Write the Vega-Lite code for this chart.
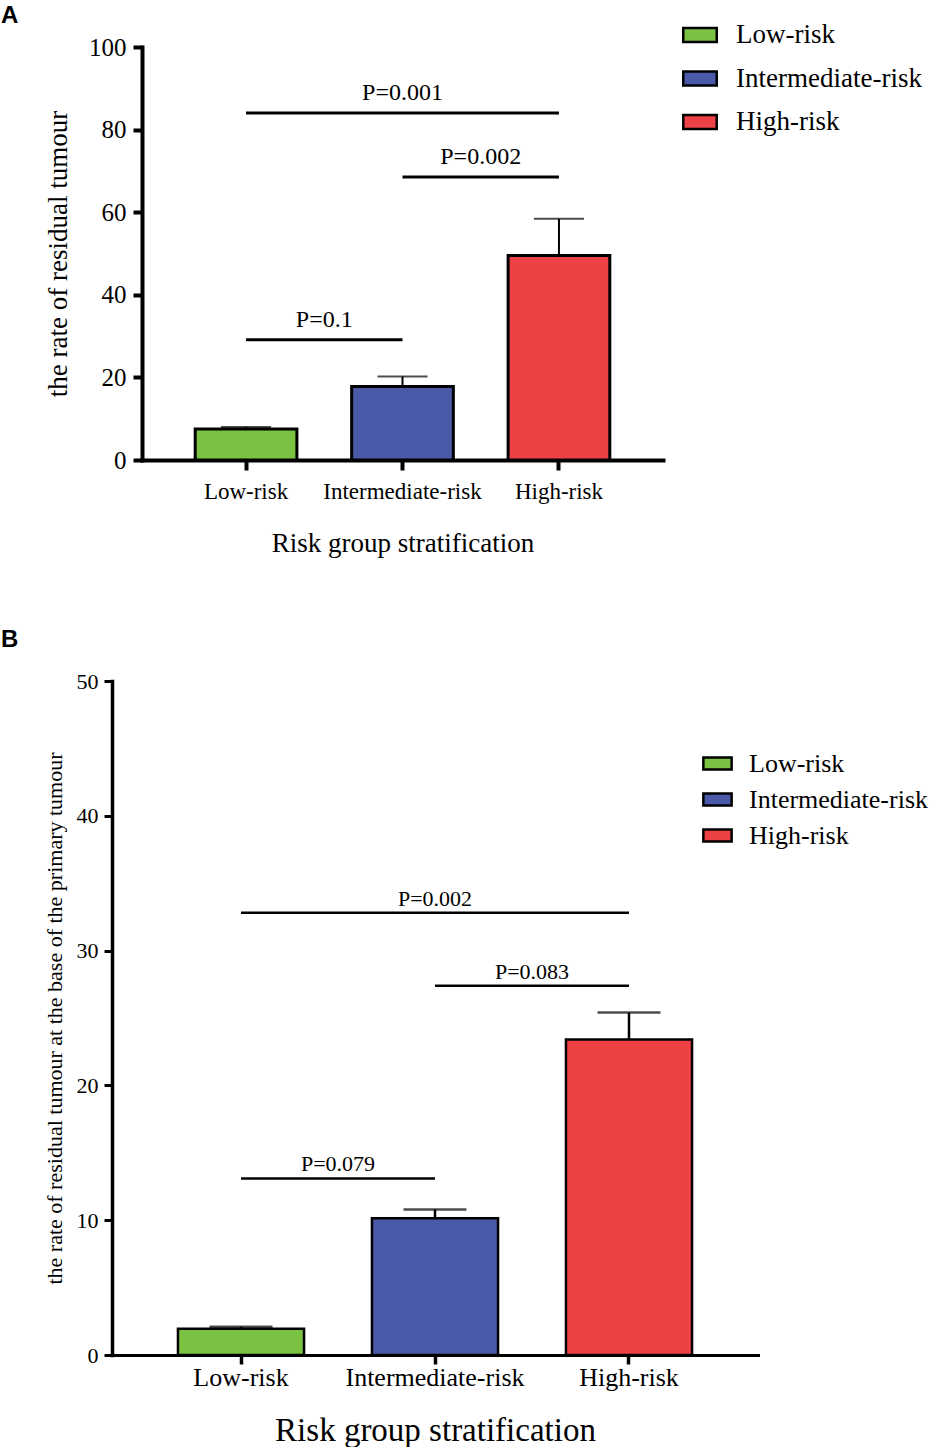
{
  "$schema": "https://vega.github.io/schema/vega-lite/v6.json",
  "background": "white",
  "padding": {"left": 1, "top": 4, "right": 0, "bottom": 0},
  "datasets": {
    "barsA": [
      {"group": "Low-risk", "value": 7.5, "err": 8.0},
      {"group": "Intermediate-risk", "value": 17.8, "err": 20.2},
      {"group": "High-risk", "value": 49.5, "err": 58.4}
    ],
    "sigA": [
      {"group": "Low-risk", "to": "High-risk", "mid": "Intermediate-risk", "level": 84, "label": "P=0.001", "span": 2},
      {"group": "Intermediate-risk", "to": "High-risk", "mid": "Intermediate-risk", "level": 68.5, "label": "P=0.002", "span": 1},
      {"group": "Low-risk", "to": "Intermediate-risk", "mid": "Low-risk", "level": 29.1, "label": "P=0.1", "span": 1}
    ],
    "barsB": [
      {"group": "Low-risk", "value": 1.95, "err": 2.1},
      {"group": "Intermediate-risk", "value": 10.15, "err": 10.8},
      {"group": "High-risk", "value": 23.4, "err": 25.4}
    ],
    "sigB": [
      {"group": "Low-risk", "to": "High-risk", "mid": "Intermediate-risk", "level": 32.8, "label": "P=0.002", "span": 2},
      {"group": "Intermediate-risk", "to": "High-risk", "mid": "Intermediate-risk", "level": 27.4, "label": "P=0.083", "span": 1},
      {"group": "Low-risk", "to": "Intermediate-risk", "mid": "Low-risk", "level": 13.1, "label": "P=0.079", "span": 1}
    ]
  },
  "resolve": {"scale": {"color": "independent"}, "legend": {"color": "independent"}},
  "spacing": 72,
  "vconcat": [
    {
      "width": 521,
      "height": 413,
      "title": {"text": "A", "anchor": "start", "frame": "group", "dx": -141, "offset": -11, "font": "Liberation Sans", "fontWeight": "bold", "fontSize": 24, "color": "black"},
      "encoding": {
        "x": {
          "field": "group",
          "type": "nominal",
          "scale": {"domain": ["Low-risk", "Intermediate-risk", "High-risk"], "paddingInner": 0.35, "paddingOuter": 0.34},
          "axis": {"title": "Risk group stratification", "labelAngle": 0, "labelFontSize": 23, "titleFontSize": 27, "domainWidth": 4, "tickWidth": 4, "tickSize": 10, "labelPadding": 10, "titlePadding": 27}
        }
      },
      "layer": [
        {
          "data": {"name": "barsA"},
          "mark": {"type": "rule", "color": "black", "strokeWidth": 2},
          "encoding": {
            "y": {"field": "err", "type": "quantitative", "title": "the rate of residual tumour"},
            "y2": {"field": "value"}
          }
        },
        {
          "data": {"name": "barsA"},
          "mark": {"type": "tick", "color": "black", "size": 50, "thickness": 2},
          "encoding": {
            "y": {"field": "err", "type": "quantitative", "title": "the rate of residual tumour"}
          }
        },
        {
          "data": {"name": "barsA"},
          "mark": {"type": "bar", "stroke": "black", "strokeWidth": 3},
          "encoding": {
            "y": {
              "field": "value",
              "type": "quantitative",
              "title": "the rate of residual tumour",
              "scale": {"domain": [0, 100], "nice": false},
              "axis": {"values": [0, 20, 40, 60, 80, 100], "labelFontSize": 25, "titleFontSize": 27, "domainWidth": 4, "tickWidth": 4, "tickSize": 9, "labelPadding": 7, "titlePadding": 16}
            },
            "color": {
              "field": "group",
              "type": "nominal",
              "scale": {"domain": ["Low-risk", "Intermediate-risk", "High-risk"], "range": ["#7bc242", "#4b5aa8", "#ee4145"]},
              "legend": {"title": null, "orient": "none", "legendX": 540, "legendY": -30, "labelFontSize": 27, "symbolSize": 1120, "rowPadding": 12.5, "labelOffset": 18}
            }
          }
        },
        {
          "data": {"name": "sigA"},
          "mark": {"type": "rule", "color": "black", "strokeWidth": 3},
          "encoding": {
            "x2": {"field": "to"},
            "y": {"field": "level", "type": "quantitative", "title": "the rate of residual tumour"}
          }
        },
        {
          "data": {"name": "sigA"},
          "transform": [{"filter": "datum.span == 2"}],
          "mark": {"type": "text", "fontSize": 24, "baseline": "alphabetic", "dy": -13, "color": "black"},
          "encoding": {
            "x": {"field": "mid", "type": "nominal", "scale": {"domain": ["Low-risk", "Intermediate-risk", "High-risk"]}},
            "y": {"field": "level", "type": "quantitative", "title": "the rate of residual tumour"},
            "text": {"field": "label"}
          }
        },
        {
          "data": {"name": "sigA"},
          "transform": [{"filter": "datum.span == 1"}],
          "mark": {"type": "text", "fontSize": 24, "baseline": "alphabetic", "dy": -13, "color": "black"},
          "encoding": {
            "x": {"field": "mid", "type": "nominal", "bandPosition": 1.269, "scale": {"domain": ["Low-risk", "Intermediate-risk", "High-risk"]}},
            "y": {"field": "level", "type": "quantitative", "title": "the rate of residual tumour"},
            "text": {"field": "label"}
          }
        }
      ]
    },
    {
      "width": 616,
      "height": 674,
      "title": {"text": "B", "anchor": "start", "frame": "group", "dx": -141, "offset": 18, "font": "Liberation Sans", "fontWeight": "bold", "fontSize": 24, "color": "black"},
      "encoding": {
        "x": {
          "field": "group",
          "type": "nominal",
          "scale": {"domain": ["Low-risk", "Intermediate-risk", "High-risk"], "range": [-30, 616], "paddingInner": 0.35, "paddingOuter": 0.34},
          "axis": {"title": "Risk group stratification", "labelAngle": 0, "labelFontSize": 26, "titleFontSize": 33, "domainWidth": 3, "tickWidth": 3.5, "tickSize": 9, "labelPadding": 0, "titlePadding": 24}
        }
      },
      "layer": [
        {
          "data": {"name": "barsB"},
          "mark": {"type": "rule", "color": "black", "strokeWidth": 2.5},
          "encoding": {
            "y": {"field": "err", "type": "quantitative", "title": "the rate of residual tumour at the base of the primary tumour"},
            "y2": {"field": "value"}
          }
        },
        {
          "data": {"name": "barsB"},
          "mark": {"type": "tick", "color": "black", "size": 63, "thickness": 2.5},
          "encoding": {
            "y": {"field": "err", "type": "quantitative", "title": "the rate of residual tumour at the base of the primary tumour"}
          }
        },
        {
          "data": {"name": "barsB"},
          "mark": {"type": "bar", "stroke": "black", "strokeWidth": 2.5},
          "encoding": {
            "y": {
              "field": "value",
              "type": "quantitative",
              "title": "the rate of residual tumour at the base of the primary tumour",
              "scale": {"domain": [0, 50], "nice": false},
              "axis": {"values": [0, 10, 20, 30, 40, 50], "offset": 30, "labelFontSize": 22, "titleFontSize": 22, "domainWidth": 3.5, "tickWidth": 3, "tickSize": 8, "labelPadding": 6, "titlePadding": 10}
            },
            "color": {
              "field": "group",
              "type": "nominal",
              "scale": {"domain": ["Low-risk", "Intermediate-risk", "High-risk"], "range": ["#7bc242", "#4b5aa8", "#ee4145"]},
              "legend": {"title": null, "orient": "none", "legendX": 560, "legendY": 67, "labelFontSize": 26, "symbolSize": 800, "rowPadding": 7, "labelOffset": 16}
            }
          }
        },
        {
          "data": {"name": "sigB"},
          "mark": {"type": "rule", "color": "black", "strokeWidth": 2.5},
          "encoding": {
            "x2": {"field": "to"},
            "y": {"field": "level", "type": "quantitative", "title": "the rate of residual tumour at the base of the primary tumour"}
          }
        },
        {
          "data": {"name": "sigB"},
          "transform": [{"filter": "datum.span == 2"}],
          "mark": {"type": "text", "fontSize": 22, "baseline": "alphabetic", "dy": -7, "color": "black"},
          "encoding": {
            "x": {"field": "mid", "type": "nominal", "scale": {"domain": ["Low-risk", "Intermediate-risk", "High-risk"]}},
            "y": {"field": "level", "type": "quantitative", "title": "the rate of residual tumour at the base of the primary tumour"},
            "text": {"field": "label"}
          }
        },
        {
          "data": {"name": "sigB"},
          "transform": [{"filter": "datum.span == 1"}],
          "mark": {"type": "text", "fontSize": 22, "baseline": "alphabetic", "dy": -7, "color": "black"},
          "encoding": {
            "x": {"field": "mid", "type": "nominal", "bandPosition": 1.269, "scale": {"domain": ["Low-risk", "Intermediate-risk", "High-risk"]}},
            "y": {"field": "level", "type": "quantitative", "title": "the rate of residual tumour at the base of the primary tumour"},
            "text": {"field": "label"}
          }
        }
      ]
    }
  ],
  "config": {
    "view": {"stroke": null},
    "font": "Liberation Serif",
    "text": {"font": "Liberation Serif"},
    "axis": {
      "grid": false,
      "domainColor": "black",
      "tickColor": "black",
      "labelColor": "black",
      "titleColor": "black",
      "labelFont": "Liberation Serif",
      "titleFont": "Liberation Serif",
      "titleFontWeight": "normal",
      "domainCap": "square"
    },
    "legend": {
      "labelFont": "Liberation Serif",
      "labelColor": "black",
      "labelLimit": 0,
      "symbolType": "M-1,-0.42L1,-0.42L1,0.42L-1,0.42Z",
      "symbolStrokeColor": "black",
      "symbolStrokeWidth": 2.5,
      "symbolOpacity": 1
    }
  }
}
